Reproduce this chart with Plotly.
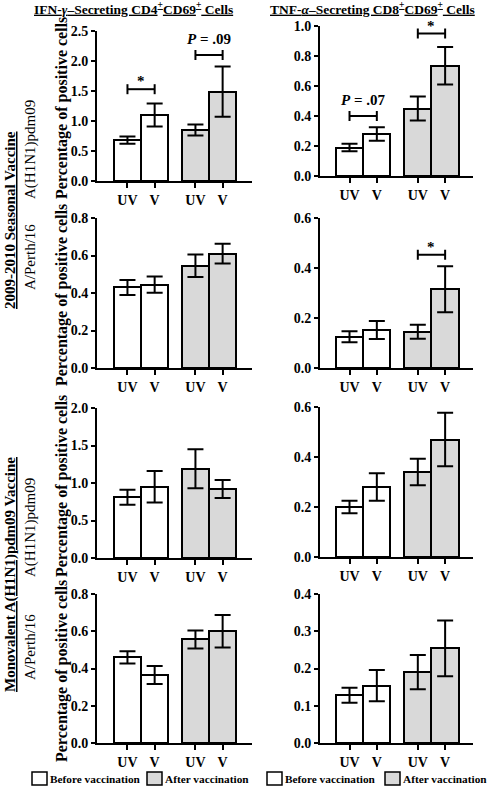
import plotly.graph_objects as go

W, H = 488, 786

# ---------------- data ----------------
tick_labels = ["UV", "V", "UV", "V"]
bar_group = ["Before vaccination", "Before vaccination", "After vaccination", "After vaccination"]
legend_labels = ["Before vaccination", "After vaccination"]

ifn_seasonal_h1n1 = [0.68, 1.10, 0.85, 1.49]
ifn_seasonal_h1n1_err = [0.06, 0.19, 0.09, 0.42]
tnf_seasonal_h1n1 = [0.19, 0.28, 0.45, 0.735]
tnf_seasonal_h1n1_err = [0.025, 0.045, 0.08, 0.125]
ifn_seasonal_perth = [0.43, 0.445, 0.545, 0.61]
ifn_seasonal_perth_err = [0.04, 0.043, 0.06, 0.053]
tnf_seasonal_perth = [0.125, 0.152, 0.145, 0.315]
tnf_seasonal_perth_err = [0.022, 0.036, 0.028, 0.092]
ifn_mono_h1n1 = [0.81, 0.95, 1.19, 0.92]
ifn_mono_h1n1_err = [0.10, 0.21, 0.26, 0.12]
tnf_mono_h1n1 = [0.20, 0.28, 0.34, 0.47]
tnf_mono_h1n1_err = [0.025, 0.055, 0.053, 0.107]
ifn_mono_perth = [0.46, 0.365, 0.556, 0.60]
ifn_mono_perth_err = [0.033, 0.048, 0.048, 0.087]
tnf_mono_perth = [0.128, 0.154, 0.19, 0.254]
tnf_mono_perth_err = [0.02, 0.042, 0.046, 0.075]

y_max = [2.5, 1.0, 0.8, 0.6, 2.0, 0.6, 0.8, 0.4]
y_dtick = [0.5, 0.2, 0.2, 0.2, 0.5, 0.2, 0.2, 0.1]

# significance brackets: (panel, bar a, bar b, level, label)
sig_panel = [0, 0, 1, 1, 3]
sig_a = [0, 2, 0, 2, 2]
sig_b = [1, 3, 1, 3, 3]
sig_level = [1.53, 2.10, 0.40, 0.95, 0.453]
sig_label = ["*", "<i>P</i> = .09", "<i>P</i> = .07", "*", "*"]

col_titles = ["IFN-<i>γ</i>–Secreting CD4<sup>+</sup>CD69<sup>+</sup> Cells",
              "TNF-<i>α</i>–Secreting CD8<sup>+</sup>CD69<sup>+</sup> Cells"]
vaccine_labels = ["2009-2010 Seasonal Vaccine", "Monovalent A(H1N1)pdm09 Vaccine"]
strain_labels = ["A(H1N1)pdm09", "A/Perth/16", "A(H1N1)pdm09", "A/Perth/16"]
y_title = "Percentage of positive cells"

means = [ifn_seasonal_h1n1, tnf_seasonal_h1n1, ifn_seasonal_perth, tnf_seasonal_perth,
         ifn_mono_h1n1, tnf_mono_h1n1, ifn_mono_perth, tnf_mono_perth]
errs = [ifn_seasonal_h1n1_err, tnf_seasonal_h1n1_err, ifn_seasonal_perth_err, tnf_seasonal_perth_err,
        ifn_mono_h1n1_err, tnf_mono_h1n1_err, ifn_mono_perth_err, tnf_mono_perth_err]

# ---------------- layout / style ----------------
FONT = "Liberation Serif"
bar_x = [0, 1, 2.5, 3.5]
fill = {"Before vaccination": "#ffffff", "After vaccination": "#d9d9d9"}

def px(x):
    return x / W

def py(y):
    return 1 - y / H

panel_px = [
    (97, 252, 31, 181), (320, 473, 26, 176),
    (97, 252, 218, 368), (320, 473, 218, 368),
    (97, 252, 408, 558), (320, 473, 407, 557),
    (97, 252, 594, 743), (320, 473, 594, 743),
]
x_rng = [[-1.12, 4.58], [-1.08, 4.52]]

fig = go.Figure()
layout = dict(template="none", width=W, height=H, autosize=False,
              margin=dict(l=0, r=0, t=0, b=0, pad=0),
              plot_bgcolor="white", paper_bgcolor="white", showlegend=False,
              font=dict(family=FONT, color="black"), bargap=0)

tickfont = dict(family=FONT, size=14, color="black", weight="bold")

for i in range(8):
    n = i + 1
    xa = "x" if n == 1 else f"x{n}"
    ya = "y" if n == 1 else f"y{n}"
    x0, x1, y0, y1 = panel_px[i]
    fig.add_trace(go.Bar(
        x=bar_x, y=means[i], width=1, xaxis=xa, yaxis=ya,
        marker=dict(color=[fill[g] for g in bar_group], line=dict(color="black", width=2)),
        error_y=dict(type="data", array=errs[i], color="black", thickness=2, width=8),
        cliponaxis=False,
    ))
    layout[f"xaxis{'' if n == 1 else n}"] = dict(
        domain=[px(x0), px(x1)], anchor=ya, range=x_rng[i % 2], automargin=False,
        tickvals=bar_x, ticktext=tick_labels, ticks="outside", ticklen=5, tickwidth=2,
        tickcolor="black", showline=True, linewidth=2, linecolor="black",
        showgrid=False, zeroline=False, tickfont=tickfont, fixedrange=True)
    layout[f"yaxis{'' if n == 1 else n}"] = dict(
        domain=[py(y1), py(y0)], anchor=xa, range=[0, y_max[i]], dtick=y_dtick[i],
        tick0=0, tickformat=".1f", ticks="outside", ticklen=4, tickwidth=2, automargin=False,
        tickcolor="black", showline=True, linewidth=2, linecolor="black",
        showgrid=False, zeroline=False, tickfont=tickfont, fixedrange=True)

annotations = []
shapes = []

# significance brackets
for k in range(len(sig_panel)):
    p = sig_panel[k]
    n = p + 1
    xa = "x" if n == 1 else f"x{n}"
    ya = "y" if n == 1 else f"y{n}"
    xa_, xb_ = bar_x[sig_a[k]], bar_x[sig_b[k]]
    lv = sig_level[k]
    c = y_max[p] * 5 / 150
    fig.add_trace(go.Scatter(
        x=[xa_, xa_, None, xa_, xb_, None, xb_, xb_],
        y=[lv - c, lv + c, None, lv, lv, None, lv - c, lv + c],
        mode="lines", line=dict(color="black", width=2), xaxis=xa, yaxis=ya,
        cliponaxis=False, hoverinfo="skip"))
    is_star = sig_label[k] == "*"
    annotations.append(dict(
        x=(xa_ + xb_) / 2, y=lv, xref=xa, yref=ya, text=sig_label[k], showarrow=False,
        yanchor="bottom", yshift=-2 if is_star else 6,
        font=dict(family=FONT, size=15, color="#000000", weight="bold")))

# column titles
for j, cx in enumerate([133, 372]):
    annotations.append(dict(
        x=px(cx), y=py(9), xref="paper", yref="paper", text=col_titles[j], showarrow=False,
        xanchor="center", yanchor="middle",
        font=dict(family=FONT, size=13.5, color="black", weight="bold", lineposition="under")))

# y titles (left column)
for cy in [108, 295, 486, 671]:
    annotations.append(dict(
        x=px(62), y=py(cy), xref="paper", yref="paper", text=y_title, showarrow=False,
        textangle=-90, xanchor="center", yanchor="middle",
        font=dict(family=FONT, size=16, color="black", weight="bold")))

# strain labels
for lab, cy in zip(strain_labels, [150, 257, 528, 647]):
    annotations.append(dict(
        x=px(30), y=py(cy), xref="paper", yref="paper", text=lab, showarrow=False,
        textangle=-90, xanchor="center", yanchor="middle",
        font=dict(family=FONT, size=15, color="black")))

# vaccine labels
for lab, cy in zip(vaccine_labels, [220, 575]):
    annotations.append(dict(
        x=px(10), y=py(cy), xref="paper", yref="paper", text=lab, showarrow=False,
        textangle=-90, xanchor="center", yanchor="middle",
        font=dict(family=FONT, size=15, color="black", weight="bold", lineposition="under")))

# legends (one under each column)
for bx in [(32, 147), (267, 385)]:
    for g, lx in zip(legend_labels, bx):
        shapes.append(dict(type="rect", xref="paper", yref="paper",
                           x0=px(lx), x1=px(lx + 15), y0=py(785), y1=py(772),
                           fillcolor=fill[g], line=dict(color="black", width=1.5)))
        annotations.append(dict(
            x=px(lx + 16), y=py(778.5), xref="paper", yref="paper", text=g, showarrow=False,
            xanchor="left", yanchor="middle",
            font=dict(family=FONT, size=11.3, color="black", weight="bold")))

layout["annotations"] = annotations
layout["shapes"] = shapes
fig.update_layout(**layout)
fig.write_html("out.html", config={"displayModeBar": False},
               post_script="document.body.style.margin='0';document.body.style.overflow='hidden';")
